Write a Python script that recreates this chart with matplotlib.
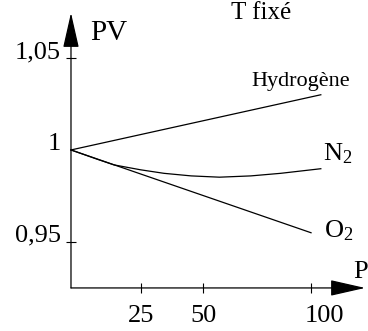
import numpy as np
import matplotlib.pyplot as plt
import matplotlib.transforms as mtransforms

plt.rcParams['font.family'] = ['Liberation Serif', 'DejaVu Serif']
plt.rcParams['mathtext.fontset'] = 'custom'
plt.rcParams['mathtext.rm'] = 'Liberation Serif'
plt.rcParams['mathtext.it'] = 'Liberation Serif:italic'

# values (P, PV at fixed T)
p_h2 = [0, 105]
pv_h2 = [1.0, 1.030]
p_n2 = [0, 9, 15, 25, 34, 45, 57, 71, 85, 105]
pv_n2 = [1.0, 0.995, 0.9919, 0.9892, 0.9873, 0.9859, 0.9852, 0.9859, 0.9873, 0.9898]
p_o2 = [0, 100]
pv_o2 = [1.0, 0.955]

x_ticks = [25, 50, 100]
x_labels = ['25', '50', '100']
y_ticks = [0.95, 1.0, 1.05]
y_labels = ['0,95', '1', '1,05']

W, H = 368, 331
fig = plt.figure(figsize=(W / 100, H / 100), dpi=100)
ax = fig.add_axes([0, 0, 1, 1])

# the P axis of the sketch is not linear, squeeze it a bit
ax.set_xscale('function', functions=(lambda x: np.log1p(x / 200.0),
                                     lambda y: 200.0 * np.expm1(y)))
ax.set_xlim(-22.6, 130.3)
ax.set_ylim(0.9016, 1.0815)

lw = 0.9
ax.plot(p_h2, pv_h2, color='black', lw=lw)
ax.plot(p_n2, pv_n2, color='black', lw=lw)
ax.plot(p_o2, pv_o2, color='black', lw=lw)

y0 = 0.925
for s in ax.spines.values():
    s.set_visible(False)
ax.spines['left'].set_position(('data', 0))
ax.spines['bottom'].set_position(('data', y0))

ax.set_xticks(x_ticks)
ax.set_xticklabels(x_labels)
ax.set_yticks(y_ticks)
ax.set_yticklabels(y_labels)
ax.tick_params(axis='both', direction='inout', length=7, width=0.8, color='black')
ax.tick_params(axis='x', labelsize=19, pad=8.5)
ax.tick_params(axis='y', labelsize=19, pad=3.6)
for lab in ax.get_yticklabels():
    lab.set_va('baseline')
ax.yaxis.get_major_ticks()[1].tick1line.set_visible(False)
xt = ax.xaxis.get_major_ticks()
xt[2].label1.set_transform(xt[2].label1.get_transform() +
                           mtransforms.ScaledTranslation(13 / 100, 0, fig.dpi_scale_trans))

arrow = dict(arrowstyle='-|>,head_length=2.2,head_width=0.5', mutation_scale=10,
             lw=lw, color='black', shrinkA=0, shrinkB=0)
ax.annotate('', xy=(0, 1.0745), xytext=(0, y0), arrowprops=arrow)
ax.annotate('', xy=(128.7, y0), xytext=(0, y0), arrowprops=arrow)


def label(px, py, s, size):
    ax.text(px / W, 1 - py / H, s, ha='left', va='baseline', fontsize=size,
            transform=ax.transAxes)


label(90, 40, 'PV', 21)
label(231, 19, 'T fixé', 18)
label(251, 86, 'Hydrogène', 16)
label(323, 160, r'N$_2$', 19)
label(324, 237, r'O$_2$', 19)
label(353, 278, 'P', 19)

fig.savefig('out.png', dpi=100)
